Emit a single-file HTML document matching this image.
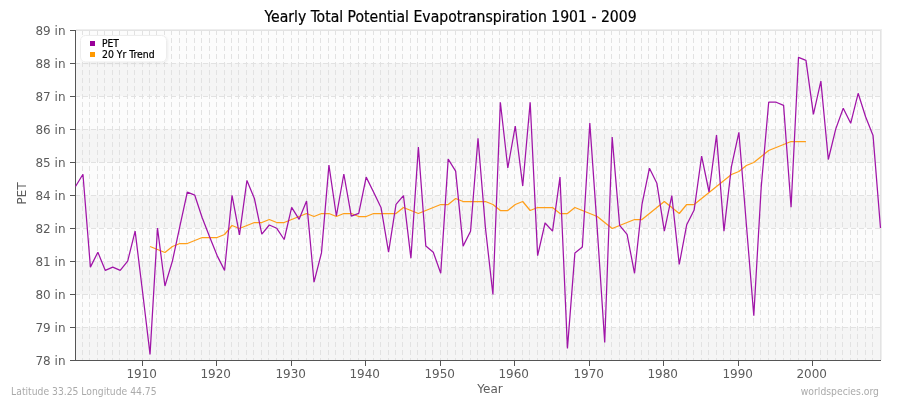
<!DOCTYPE html>
<html><head><meta charset="utf-8"><title>Yearly Total Potential Evapotranspiration 1901 - 2009</title>
<style>
html,body{margin:0;padding:0;background:#fff;}
svg{display:block;}
text{font-family:"DejaVu Sans Condensed","DejaVu Sans","Liberation Sans",sans-serif;}
text.a{font-family:"DejaVu Sans","Liberation Sans",sans-serif;}
</style></head><body>
<svg width="900" height="400" viewBox="0 0 900 400">
<rect x="0" y="0" width="900" height="400" fill="#ffffff"/>
<rect x="76" y="30" width="804" height="33" fill="#fcfcfc"/>
<rect x="76" y="63" width="804" height="33" fill="#f5f5f5"/>
<rect x="76" y="96" width="804" height="33" fill="#fcfcfc"/>
<rect x="76" y="129" width="804" height="33" fill="#f5f5f5"/>
<rect x="76" y="162" width="804" height="33" fill="#fcfcfc"/>
<rect x="76" y="195" width="804" height="33" fill="#f5f5f5"/>
<rect x="76" y="228" width="804" height="33" fill="#fcfcfc"/>
<rect x="76" y="261" width="804" height="33" fill="#f5f5f5"/>
<rect x="76" y="294" width="804" height="33" fill="#fcfcfc"/>
<rect x="76" y="327" width="804" height="33" fill="#f5f5f5"/>
<path d="M82.5 30V360M89.5 30V360M97.5 30V360M104.5 30V360M112.5 30V360M119.5 30V360M127.5 30V360M134.5 30V360M142.5 30V360M149.5 30V360M156.5 30V360M164.5 30V360M171.5 30V360M179.5 30V360M186.5 30V360M194.5 30V360M201.5 30V360M209.5 30V360M216.5 30V360M224.5 30V360M231.5 30V360M238.5 30V360M246.5 30V360M253.5 30V360M261.5 30V360M268.5 30V360M276.5 30V360M283.5 30V360M291.5 30V360M298.5 30V360M306.5 30V360M313.5 30V360M320.5 30V360M328.5 30V360M335.5 30V360M343.5 30V360M350.5 30V360M358.5 30V360M365.5 30V360M373.5 30V360M380.5 30V360M388.5 30V360M395.5 30V360M402.5 30V360M410.5 30V360M417.5 30V360M425.5 30V360M432.5 30V360M440.5 30V360M447.5 30V360M455.5 30V360M462.5 30V360M470.5 30V360M477.5 30V360M484.5 30V360M492.5 30V360M499.5 30V360M507.5 30V360M514.5 30V360M522.5 30V360M529.5 30V360M537.5 30V360M544.5 30V360M552.5 30V360M559.5 30V360M566.5 30V360M574.5 30V360M581.5 30V360M589.5 30V360M596.5 30V360M604.5 30V360M611.5 30V360M619.5 30V360M626.5 30V360M634.5 30V360M641.5 30V360M648.5 30V360M656.5 30V360M663.5 30V360M671.5 30V360M678.5 30V360M686.5 30V360M693.5 30V360M701.5 30V360M708.5 30V360M716.5 30V360M723.5 30V360M730.5 30V360M738.5 30V360M745.5 30V360M753.5 30V360M760.5 30V360M768.5 30V360M775.5 30V360M783.5 30V360M790.5 30V360M798.5 30V360M805.5 30V360M812.5 30V360M820.5 30V360M827.5 30V360M835.5 30V360M842.5 30V360M850.5 30V360M857.5 30V360M865.5 30V360M872.5 30V360" stroke="#e2e2e2" stroke-width="1" stroke-dasharray="5,3" fill="none"/>
<path d="M75 63.5H880M75 96.5H880M75 129.5H880M75 162.5H880M75 195.5H880M75 228.5H880M75 261.5H880M75 294.5H880M75 327.5H880" stroke="#e2e2e2" stroke-width="1" stroke-dasharray="5,3" fill="none"/>
<path d="M76 29.5H881.5M881.5 29V360" stroke="#eeeeee" stroke-width="1" fill="none"/>
<path d="M76 30.5H880.5M880.5 30V360" stroke="#e3e3e3" stroke-width="1" fill="none"/>
<path d="M75.5 30V361M75 360.5H881M70 30.5H75M70 63.5H75M70 96.5H75M70 129.5H75M70 162.5H75M70 195.5H75M70 228.5H75M70 261.5H75M70 294.5H75M70 327.5H75M70 360.5H75M142.5 361V366M216.5 361V366M291.5 361V366M365.5 361V366M440.5 361V366M514.5 361V366M589.5 361V366M663.5 361V366M738.5 361V366M812.5 361V366" stroke="#555555" stroke-width="1" fill="none"/>
<text x="65.5" y="34.5" text-anchor="end" font-size="12" fill="#5c5c5c" class="a">89 in</text>
<text x="65.5" y="67.5" text-anchor="end" font-size="12" fill="#5c5c5c" class="a">88 in</text>
<text x="65.5" y="100.5" text-anchor="end" font-size="12" fill="#5c5c5c" class="a">87 in</text>
<text x="65.5" y="133.5" text-anchor="end" font-size="12" fill="#5c5c5c" class="a">86 in</text>
<text x="65.5" y="166.5" text-anchor="end" font-size="12" fill="#5c5c5c" class="a">85 in</text>
<text x="65.5" y="199.5" text-anchor="end" font-size="12" fill="#5c5c5c" class="a">84 in</text>
<text x="65.5" y="232.5" text-anchor="end" font-size="12" fill="#5c5c5c" class="a">82 in</text>
<text x="65.5" y="265.5" text-anchor="end" font-size="12" fill="#5c5c5c" class="a">81 in</text>
<text x="65.5" y="298.5" text-anchor="end" font-size="12" fill="#5c5c5c" class="a">80 in</text>
<text x="65.5" y="331.5" text-anchor="end" font-size="12" fill="#5c5c5c" class="a">79 in</text>
<text x="65.5" y="364.5" text-anchor="end" font-size="12" fill="#5c5c5c" class="a">78 in</text>
<text x="141.7" y="378" text-anchor="middle" font-size="12" fill="#5c5c5c" class="a">1910</text>
<text x="215.7" y="378" text-anchor="middle" font-size="12" fill="#5c5c5c" class="a">1920</text>
<text x="290.7" y="378" text-anchor="middle" font-size="12" fill="#5c5c5c" class="a">1930</text>
<text x="364.7" y="378" text-anchor="middle" font-size="12" fill="#5c5c5c" class="a">1940</text>
<text x="439.7" y="378" text-anchor="middle" font-size="12" fill="#5c5c5c" class="a">1950</text>
<text x="513.7" y="378" text-anchor="middle" font-size="12" fill="#5c5c5c" class="a">1960</text>
<text x="588.7" y="378" text-anchor="middle" font-size="12" fill="#5c5c5c" class="a">1970</text>
<text x="662.7" y="378" text-anchor="middle" font-size="12" fill="#5c5c5c" class="a">1980</text>
<text x="737.7" y="378" text-anchor="middle" font-size="12" fill="#5c5c5c" class="a">1990</text>
<text x="811.7" y="378" text-anchor="middle" font-size="12" fill="#5c5c5c" class="a">2000</text>
<text x="490" y="393" text-anchor="middle" font-size="12" fill="#5c5c5c" class="a">Year</text>
<text transform="translate(26,193.5) rotate(-90)" x="0" y="0" text-anchor="middle" font-size="12" fill="#5c5c5c" class="a" textLength="22.6" lengthAdjust="spacingAndGlyphs">PET</text>
<text x="450.6" y="22" text-anchor="middle" font-size="15.6" fill="#000000" stroke="#000000" stroke-width="0.2">Yearly Total Potential Evapotranspiration 1901 - 2009</text>
<text x="11.1" y="395" font-size="10.1" fill="#aaaaaa" textLength="145.5" lengthAdjust="spacingAndGlyphs">Latitude 33.25 Longitude 44.75</text>
<text x="879" y="395" text-anchor="end" font-size="10.1" fill="#aaaaaa" textLength="78.2" lengthAdjust="spacingAndGlyphs">worldspecies.org</text>
<polyline points="150.04,246.5 157.49,249.5 164.94,252.5 172.40,246.5 179.85,243.5 187.31,243.5 194.76,240.5 202.21,237.5 209.67,237.5 217.12,237.5 224.57,234.5 232.03,225.5 239.48,228.5 246.94,225.5 254.39,222.5 261.84,222.5 269.30,219.5 276.75,222.5 284.20,222.5 291.66,219.5 299.11,216.5 306.56,213.5 314.02,216.5 321.47,213.5 328.93,213.5 336.38,216.5 343.83,213.5 351.29,213.5 358.74,216.5 366.19,216.5 373.65,213.5 381.10,213.5 388.56,213.5 396.01,213.5 403.46,207.5 410.92,210.5 418.37,213.5 425.82,210.5 433.28,207.5 440.73,204.5 448.19,204.5 455.64,198.5 463.09,201.5 470.55,201.5 478.00,201.5 485.45,201.5 492.91,204.5 500.36,210.5 507.81,210.5 515.27,204.5 522.72,201.5 530.18,210.5 537.63,207.5 545.08,207.5 552.54,207.5 559.99,213.5 567.44,213.5 574.90,207.5 582.35,210.5 589.81,213.5 597.26,216.5 604.71,222.5 612.17,228.5 619.62,225.5 627.07,222.5 634.53,219.5 641.98,219.5 649.44,213.5 656.89,207.5 664.34,201.5 671.80,207.5 679.25,213.5 686.70,204.5 694.16,204.5 701.61,198.5 709.06,192.5 716.52,186.5 723.97,180.5 731.43,174.5 738.88,171.5 746.33,165.5 753.79,162.5 761.24,156.5 768.69,150.5 776.15,147.5 783.60,144.5 791.06,141.5 798.51,141.5 805.96,141.5" fill="none" stroke="#ff9f1a" stroke-width="1.25" stroke-linejoin="bevel"/>
<polyline points="75.50,186.5 82.95,174.2 90.41,267.1 97.86,252.2 105.31,270.4 112.77,267.1 120.22,270.4 127.68,261.1 135.13,231.2 142.58,292 150.04,354.4 157.49,228 164.94,286 172.40,261.1 179.85,226.4 187.31,192.2 194.76,195.2 202.21,217.8 209.67,237 217.12,255.6 224.57,270.4 232.03,195.3 239.48,234.8 246.94,180.4 254.39,198.5 261.84,234.2 269.30,225 276.75,228.3 284.20,239.5 291.66,207.3 299.11,219.3 306.56,201.1 314.02,282.2 321.47,252.9 328.93,165.1 336.38,216 343.83,174 351.29,216.2 358.74,213.3 366.19,177.1 373.65,192.2 381.10,207.8 388.56,252.2 396.01,204.4 403.46,195.6 410.92,258.3 418.37,147.1 425.82,246.1 433.28,252.2 440.73,273.3 448.19,159.1 455.64,171.1 463.09,246.1 470.55,231.3 478.00,138.2 485.45,228 492.91,294.4 500.36,102.2 507.81,168 515.27,126.2 522.72,186 530.18,102.2 537.63,255.6 545.08,223 552.54,231.1 559.99,177.1 567.44,348.4 574.90,252.9 582.35,247 589.81,123.1 597.26,229 604.71,342.4 612.17,137 619.62,225.3 627.07,234.4 634.53,273.3 641.98,204.4 649.44,168.2 656.89,183.3 664.34,231.1 671.80,195.6 679.25,264.4 686.70,224.8 694.16,210 701.61,156.2 709.06,192 716.52,135.1 723.97,231.1 731.43,166.6 738.88,132.4 746.33,224 753.79,315.6 761.24,186.7 768.69,102.2 776.15,102.2 783.60,105.4 791.06,207.3 798.51,57.3 805.96,60.4 813.42,114.4 820.87,81.1 828.32,159.5 835.78,128.9 843.23,108.3 850.69,123.3 858.14,93.3 865.59,116.7 873.05,135.6 880.50,228" fill="none" stroke="#a014a8" stroke-width="1.25" stroke-linejoin="bevel"/>
<defs><filter id="sh" x="-10%" y="-20%" width="130%" height="160%"><feGaussianBlur in="SourceAlpha" stdDeviation="1"/><feOffset dx="1" dy="1"/><feComponentTransfer><feFuncA type="linear" slope="0.06"/></feComponentTransfer><feMerge><feMergeNode/><feMergeNode in="SourceGraphic"/></feMerge></filter></defs>
<rect x="80.5" y="35.5" width="86" height="26.5" rx="5" ry="5" fill="#ffffff" stroke="#ededed" stroke-width="1" filter="url(#sh)"/>
<rect x="90" y="41" width="5" height="5" fill="#990099"/>
<rect x="90" y="52" width="5" height="5" fill="#ff9900"/>
<text x="102" y="46.7" font-size="10.5" fill="#000000" stroke="#000000" stroke-width="0.2" textLength="16.9" lengthAdjust="spacingAndGlyphs">PET</text>
<text x="102" y="57.6" font-size="10.5" fill="#000000" stroke="#000000" stroke-width="0.2" textLength="52.6" lengthAdjust="spacingAndGlyphs">20 Yr Trend</text>
</svg>
</body></html>
